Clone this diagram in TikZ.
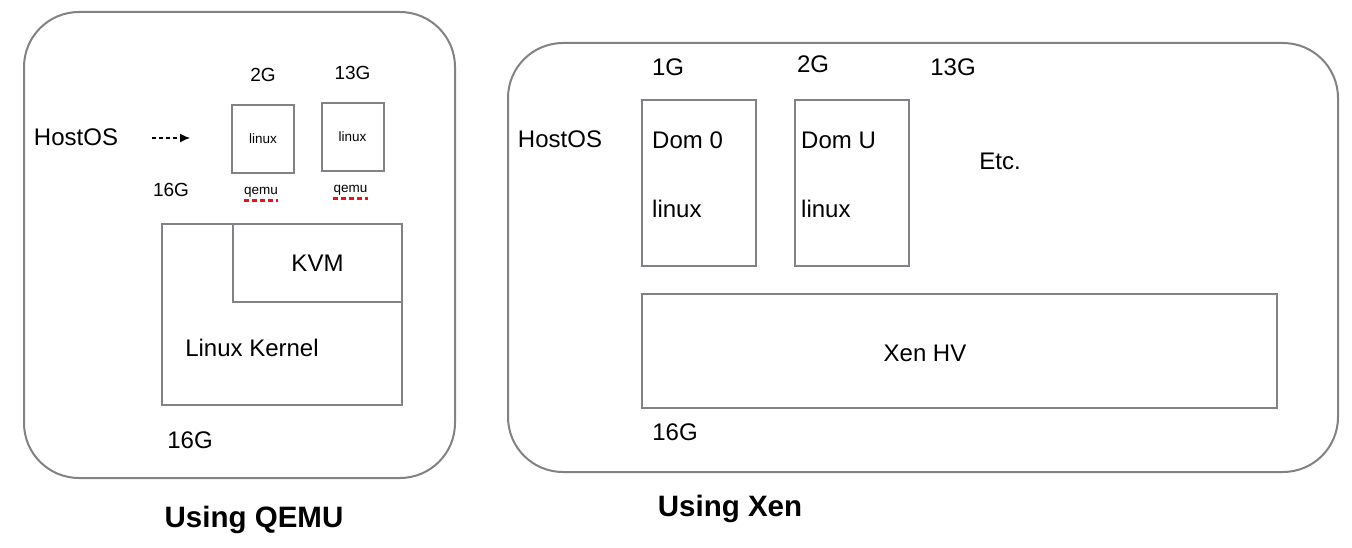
\documentclass[tikz,border=0pt]{standalone}
\usepackage{fontspec}
\setmainfont{Liberation Sans}
\usetikzlibrary{calc,arrows.meta}
\definecolor{rand}{RGB}{130,130,134}
\definecolor{rood}{RGB}{232,18,30}
\tikzset{
    kader/.style={draw=rand, line width=2pt, rounded corners=55pt},
    vak/.style={draw=rand, line width=2pt, inner sep=0pt},
    tekst/.style={inner sep=0pt, font=\fontsize{24}{28}\selectfont},
    klein/.style={inner sep=0pt, font=\fontsize{19}{22}\selectfont},
    mini/.style={inner sep=0pt, font=\fontsize{13.5}{16}\selectfont},
    titel/.style={inner sep=0pt, anchor=base, font=\fontsize{29.5}{34}\selectfont\bfseries},
}
\NewDocumentCommand{\qemugast}{m m m m}{ % naam, x midden, y midden, geheugen
    \node[vak, mini, minimum width=62pt, minimum height=68pt] (#1) at (#2,#3) {linux};
    \node[klein] (#1-mem) at ($(#1.north)+(0,-29)$) {#4};
    \node[mini] (#1-q) at ($(#1.south)+(-2,18)$) {qemu};
    \draw[rood, line width=3pt, dash pattern=on 5pt off 3pt]
        ($(#1-q.south west)+(0,3)$) -- ($(#1-q.south east)+(0,3)$);
}

\begin{document}
\begin{tikzpicture}[x=1pt, y=-1pt]
    \useasboundingbox (0,0) rectangle (1352,548);
    % QEMU
    \draw[kader] (24,12) rectangle (455,478);
    \node[tekst] (host1) at (76,137) {HostOS};
    \coordinate (pijlA) at (152,138);
    \coordinate (pijlB) at (190,138);
    \draw[line width=1.3pt, dash pattern=on 4pt off 3pt, -{Latex[length=10pt, width=9pt]}] (pijlA) -- (pijlB);
    \node[klein] (mem1) at (171,190) {16G};
    \qemugast{vm1}{263}{139}{2G}
    \qemugast{vm2}{352.5}{137}{13G}
    \node[vak, minimum width=240pt, minimum height=181pt] (kern) at (282,314.5) {};
    \node[vak, tekst, minimum width=169pt, minimum height=78pt] (kvm) at (317.5,263) {KVM};
    \node[tekst] (kernnaam) at (252,348) {Linux Kernel};
    \node[tekst] (mem2) at (190,440) {16G};
    \node[titel] (titel1) at (254,527) {Using QEMU};
    % Xen
    \draw[kader] (508,43) rectangle (1338,472);
    \node[tekst] (host2) at (560,139) {HostOS};
    \node[tekst] (g1) at (668,67) {1G};
    \node[tekst] (g2) at (813,64) {2G};
    \node[tekst] (g13) at (953,67) {13G};
    \node[vak, minimum width=114pt, minimum height=166pt] (dom0) at (699,183) {};
    \node[vak, minimum width=114pt, minimum height=166pt] (domu) at (852,183) {};
    \node[tekst, anchor=west] (dom0-naam) at (652,140) {Dom 0};
    \node[tekst, anchor=west] (dom0-os) at (652,209) {linux};
    \node[tekst, anchor=west] (domu-naam) at (801,140) {Dom U};
    \node[tekst, anchor=west] (domu-os) at (801,209) {linux};
    \node[tekst] (etc) at (1000,161) {Etc.};
    \node[vak, minimum width=635pt, minimum height=114pt] (xen) at (959.5,351) {};
    \node[tekst] (xennaam) at (925,353) {Xen HV};
    \node[tekst] (g16) at (675,432) {16G};
    \node[titel] (titel2) at (730,516) {Using Xen};
\end{tikzpicture}
\end{document}
